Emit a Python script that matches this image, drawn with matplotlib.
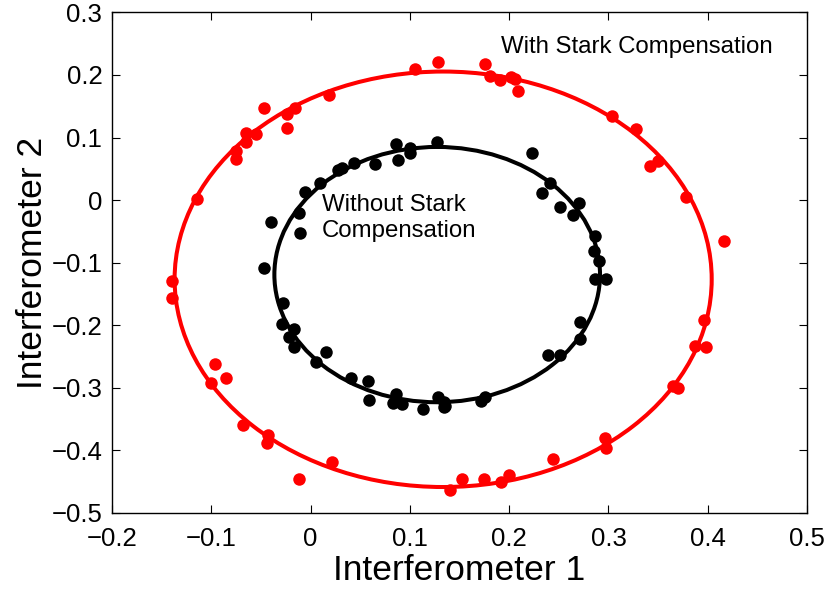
import matplotlib.pyplot as plt
from matplotlib.patches import Ellipse

plt.rcParams["font.family"] = ["Liberation Sans", "DejaVu Sans"]

# measured points, "With Stark Compensation" (red)
red_x = [-0.114, -0.075, -0.075, -0.065, -0.065, -0.055, -0.047, -0.024, -0.024, -0.016,
         0.019, 0.105, 0.128, 0.176, 0.181, 0.191, 0.202, 0.206, 0.209, 0.304,
         0.328, 0.342, 0.350, 0.378, 0.416,
         -0.140, -0.140, -0.096, -0.100, -0.085, -0.068, -0.043, -0.044, -0.012, 0.022,
         0.140, 0.152, 0.175, 0.192, 0.200, 0.244, 0.297, 0.298, 0.365, 0.370,
         0.387, 0.398, 0.396]
red_y = [0.002, 0.079, 0.065, 0.107, 0.093, 0.106, 0.147, 0.137, 0.116, 0.147,
         0.168, 0.210, 0.221, 0.218, 0.198, 0.192, 0.196, 0.193, 0.174, 0.135,
         0.114, 0.055, 0.063, 0.005, -0.066,
         -0.129, -0.156, -0.262, -0.292, -0.285, -0.359, -0.376, -0.388, -0.445, -0.419,
         -0.463, -0.446, -0.446, -0.450, -0.440, -0.414, -0.380, -0.396, -0.297, -0.300,
         -0.233, -0.235, -0.192]

# measured points, "Without Stark Compensation" (black)
blk_x = [0.086, 0.100, 0.100, 0.088, 0.065, 0.044, 0.032, 0.028, 0.009, -0.006,
         -0.012, -0.040, -0.011, 0.127, -0.047,
         0.223, 0.241, 0.233, 0.251, 0.270, 0.264, 0.286, 0.285, 0.290,
         0.286, 0.298, 0.271, 0.271, 0.239, 0.251, 0.176, 0.172, 0.134, 0.134,
         -0.028, -0.029, -0.017, -0.022, -0.017, 0.015, 0.005, 0.041, 0.058, 0.059,
         0.086, 0.083, 0.092, 0.113, 0.128, 0.135]
blk_y = [0.090, 0.084, 0.076, 0.064, 0.058, 0.060, 0.052, 0.048, 0.028, 0.013,
         -0.021, -0.035, -0.053, 0.093, -0.108,
         0.076, 0.028, 0.012, -0.011, -0.005, -0.024, -0.057, -0.082, -0.098,
         -0.126, -0.126, -0.195, -0.222, -0.248, -0.248, -0.314, -0.321, -0.322, -0.330,
         -0.165, -0.198, -0.206, -0.219, -0.234, -0.242, -0.259, -0.284, -0.289, -0.319,
         -0.310, -0.325, -0.326, -0.334, -0.315, -0.329]

# fitted ellipses: centre x, centre y, full width, full height
red_fit = (0.1335, -0.1265, 0.541, 0.664)
blk_fit = (0.1275, -0.119, 0.328, 0.408)

fig = plt.figure(figsize=(8.3, 5.91), dpi=100)
ax = fig.add_axes([0.135, 0.132, 0.8373, 0.847])

for (cx, cy, w, h), col in [(red_fit, "#ff0000"), (blk_fit, "black")]:
    ax.add_patch(Ellipse((cx, cy), w, h, fill=False, edgecolor=col, linewidth=2.9))

ax.plot(red_x, red_y, "o", color="#ff0000", markersize=9, markeredgewidth=0)
ax.plot(blk_x, blk_y, "o", color="black", markersize=9, markeredgewidth=0)

ax.text(0.192, 0.2446, "With Stark Compensation", fontsize=17.3, va="center")
ax.text(0.0115, -0.0286, "Without Stark\nCompensation", fontsize=17.3, va="center",
        linespacing=1.25)

ax.set_xlim(-0.2, 0.5)
ax.set_ylim(-0.5, 0.3)
ax.set_xticks([-0.2, -0.1, 0, 0.1, 0.2, 0.3, 0.4, 0.5])
ax.set_xticklabels(["\u22120.2", "\u22120.1", "0", "0.1", "0.2", "0.3", "0.4", "0.5"])
ax.set_yticks([-0.5, -0.4, -0.3, -0.2, -0.1, 0, 0.1, 0.2, 0.3])
ax.set_yticklabels(["\u22120.5", "\u22120.4", "\u22120.3", "\u22120.2", "\u22120.1",
                    "0", "0.1", "0.2", "0.3"])
ax.tick_params(direction="in", length=6, width=0.8, top=True, right=True,
               labelsize=18.5)
ax.tick_params(axis="x", pad=10)
ax.tick_params(axis="y", pad=7)
for s in ax.spines.values():
    s.set_linewidth(1.0)
ax.set_xlabel("Interferometer 1", fontsize=25.5, labelpad=2)
ax.set_ylabel("Interferometer 2", fontsize=25.5, labelpad=2)

fig.savefig("out.png", dpi=100)
